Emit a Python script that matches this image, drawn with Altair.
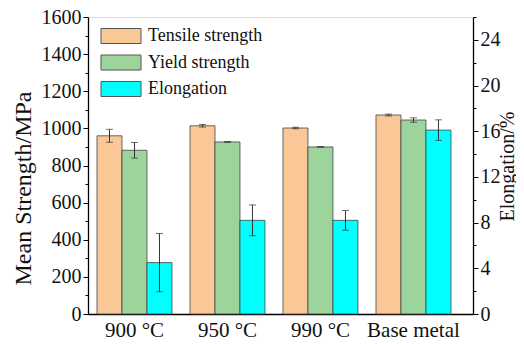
import altair as alt
import pandas as pd

conditions = ["900 °C", "950 °C", "990 °C", "Base metal"]
metrics = ["Tensile strength", "Yield strength", "Elongation"]
colors = ["#FAC896", "#9CD49C", "#00FFFF"]

tensile = [960, 1014, 1002, 1072]
tensile_err = [35, 7, 4, 5]
yield_s = [882, 927, 900, 1045]
yield_err = [42, 2, 2, 12]
elong = [4.5, 8.2, 8.2, 16.1]
elong_err = [2.55, 1.35, 0.87, 0.9]

rows = []
for m, vals, errs in [
    ("Tensile strength", tensile, tensile_err),
    ("Yield strength", yield_s, yield_err),
    ("Elongation", elong, elong_err),
]:
    for c, v, e in zip(conditions, vals, errs):
        rows.append({"cond": c, "metric": m, "value": v, "lo": v - e, "hi": v + e})
df = pd.DataFrame(rows)

FONT = "Liberation Serif, Times New Roman, DejaVu Serif, serif"

x_enc = alt.X(
    "cond:N",
    sort=conditions,
    scale=alt.Scale(paddingInner=0.194, paddingOuter=0.167, align=0.29),
    axis=alt.Axis(title=None, labelAngle=0, ticks=False, labelFontSize=21,
                  labelFont=FONT, labelColor="#111", labelPadding=5,
                  domainColor="#000", domainWidth=1.3),
)
xoff = alt.XOffset("metric:N", sort=metrics, scale=alt.Scale(domain=metrics))
color = alt.Color(
    "metric:N",
    sort=metrics,
    scale=alt.Scale(domain=metrics, range=colors),
    legend=alt.Legend(
        title=None, orient="none", legendX=24, legendY=10, padding=0,
        symbolType="M-2.67,-1H2.67V1H-2.67Z", symbolSize=225,
        symbolStrokeColor="#555", symbolStrokeWidth=1, symbolOpacity=1,
        labelFont=FONT, labelFontSize=18, labelColor="#111",
        labelOffset=18, rowPadding=6.5,
    ),
)

left_axis = alt.Axis(
    title="Mean Strength/MPa", orient="left", grid=False, format="d",
    values=list(range(0, 1601, 100)),
    labelExpr="datum.value % 200 == 0 ? datum.label : ''",
    tickSize={"condition": {"test": "datum.value % 200 == 0", "value": 5}, "value": 3},
    tickColor="#000", domainColor="#000", domainWidth=1.3,
    labelFont=FONT, labelFontSize=20, labelColor="#111", labelPadding=2,
    titleFont=FONT, titleFontSize=24, titleFontWeight="normal", titleColor="#111",
    titleAngle=270, titleAlign="center", titleBaseline="middle",
    titleX=-65, titleY=171,
)
right_axis = alt.Axis(
    title="Elongation/%", orient="right", grid=False, format="d",
    values=list(range(0, 27, 2)),
    labelExpr="datum.value % 4 == 0 ? datum.label : ''",
    tickSize={"condition": {"test": "datum.value % 4 == 0", "value": 5}, "value": 3},
    tickColor="#000", domainColor="#000", domainWidth=1.3,
    labelFont=FONT, labelFontSize=20, labelColor="#111", labelPadding=2,
    titleFont=FONT, titleFontSize=20, titleFontWeight="normal", titleColor="#111",
    titleAngle=270, titleAlign="center", titleBaseline="middle",
    titleX=34, titleY=149,
)

ys = alt.Scale(domain=[0, 1600], nice=False)
ye = alt.Scale(domain=[0, 26], nice=False)

base = alt.Chart(df)
strength = base.transform_filter(alt.datum.metric != "Elongation")
elongation = base.transform_filter(alt.datum.metric == "Elongation")

def group(src, scale, axis):
    bars = src.mark_bar(stroke="#444", strokeWidth=0.8, opacity=1).encode(
        x=x_enc, xOffset=xoff, y=alt.Y("value:Q", scale=scale, axis=axis), color=color
    )
    rule = src.mark_rule(color="#333", strokeWidth=1).encode(
        x=x_enc, xOffset=xoff, y=alt.Y("lo:Q", scale=scale, axis=axis), y2="hi:Q"
    )
    cap_hi = src.mark_tick(color="#333", size=7, thickness=1, orient="horizontal").encode(
        x=x_enc, xOffset=xoff, y=alt.Y("hi:Q", scale=scale, axis=axis)
    )
    cap_lo = src.mark_tick(color="#333", size=7, thickness=1, orient="horizontal").encode(
        x=x_enc, xOffset=xoff, y=alt.Y("lo:Q", scale=scale, axis=axis)
    )
    return alt.layer(bars, rule, cap_hi, cap_lo)

chart = alt.layer(
    group(strength, ys, left_axis),
    group(elongation, ye, right_axis),
).resolve_scale(y="independent").properties(
    width=385, height=297,
    autosize=alt.AutoSizeParams(type="none"),
    padding={"left": 80, "top": 9, "right": 43, "bottom": 30},
).configure_view(stroke="#000", strokeWidth=1.3).configure(background="white")

chart.save("out.html", embed_options={"renderer": "svg", "actions": False})
